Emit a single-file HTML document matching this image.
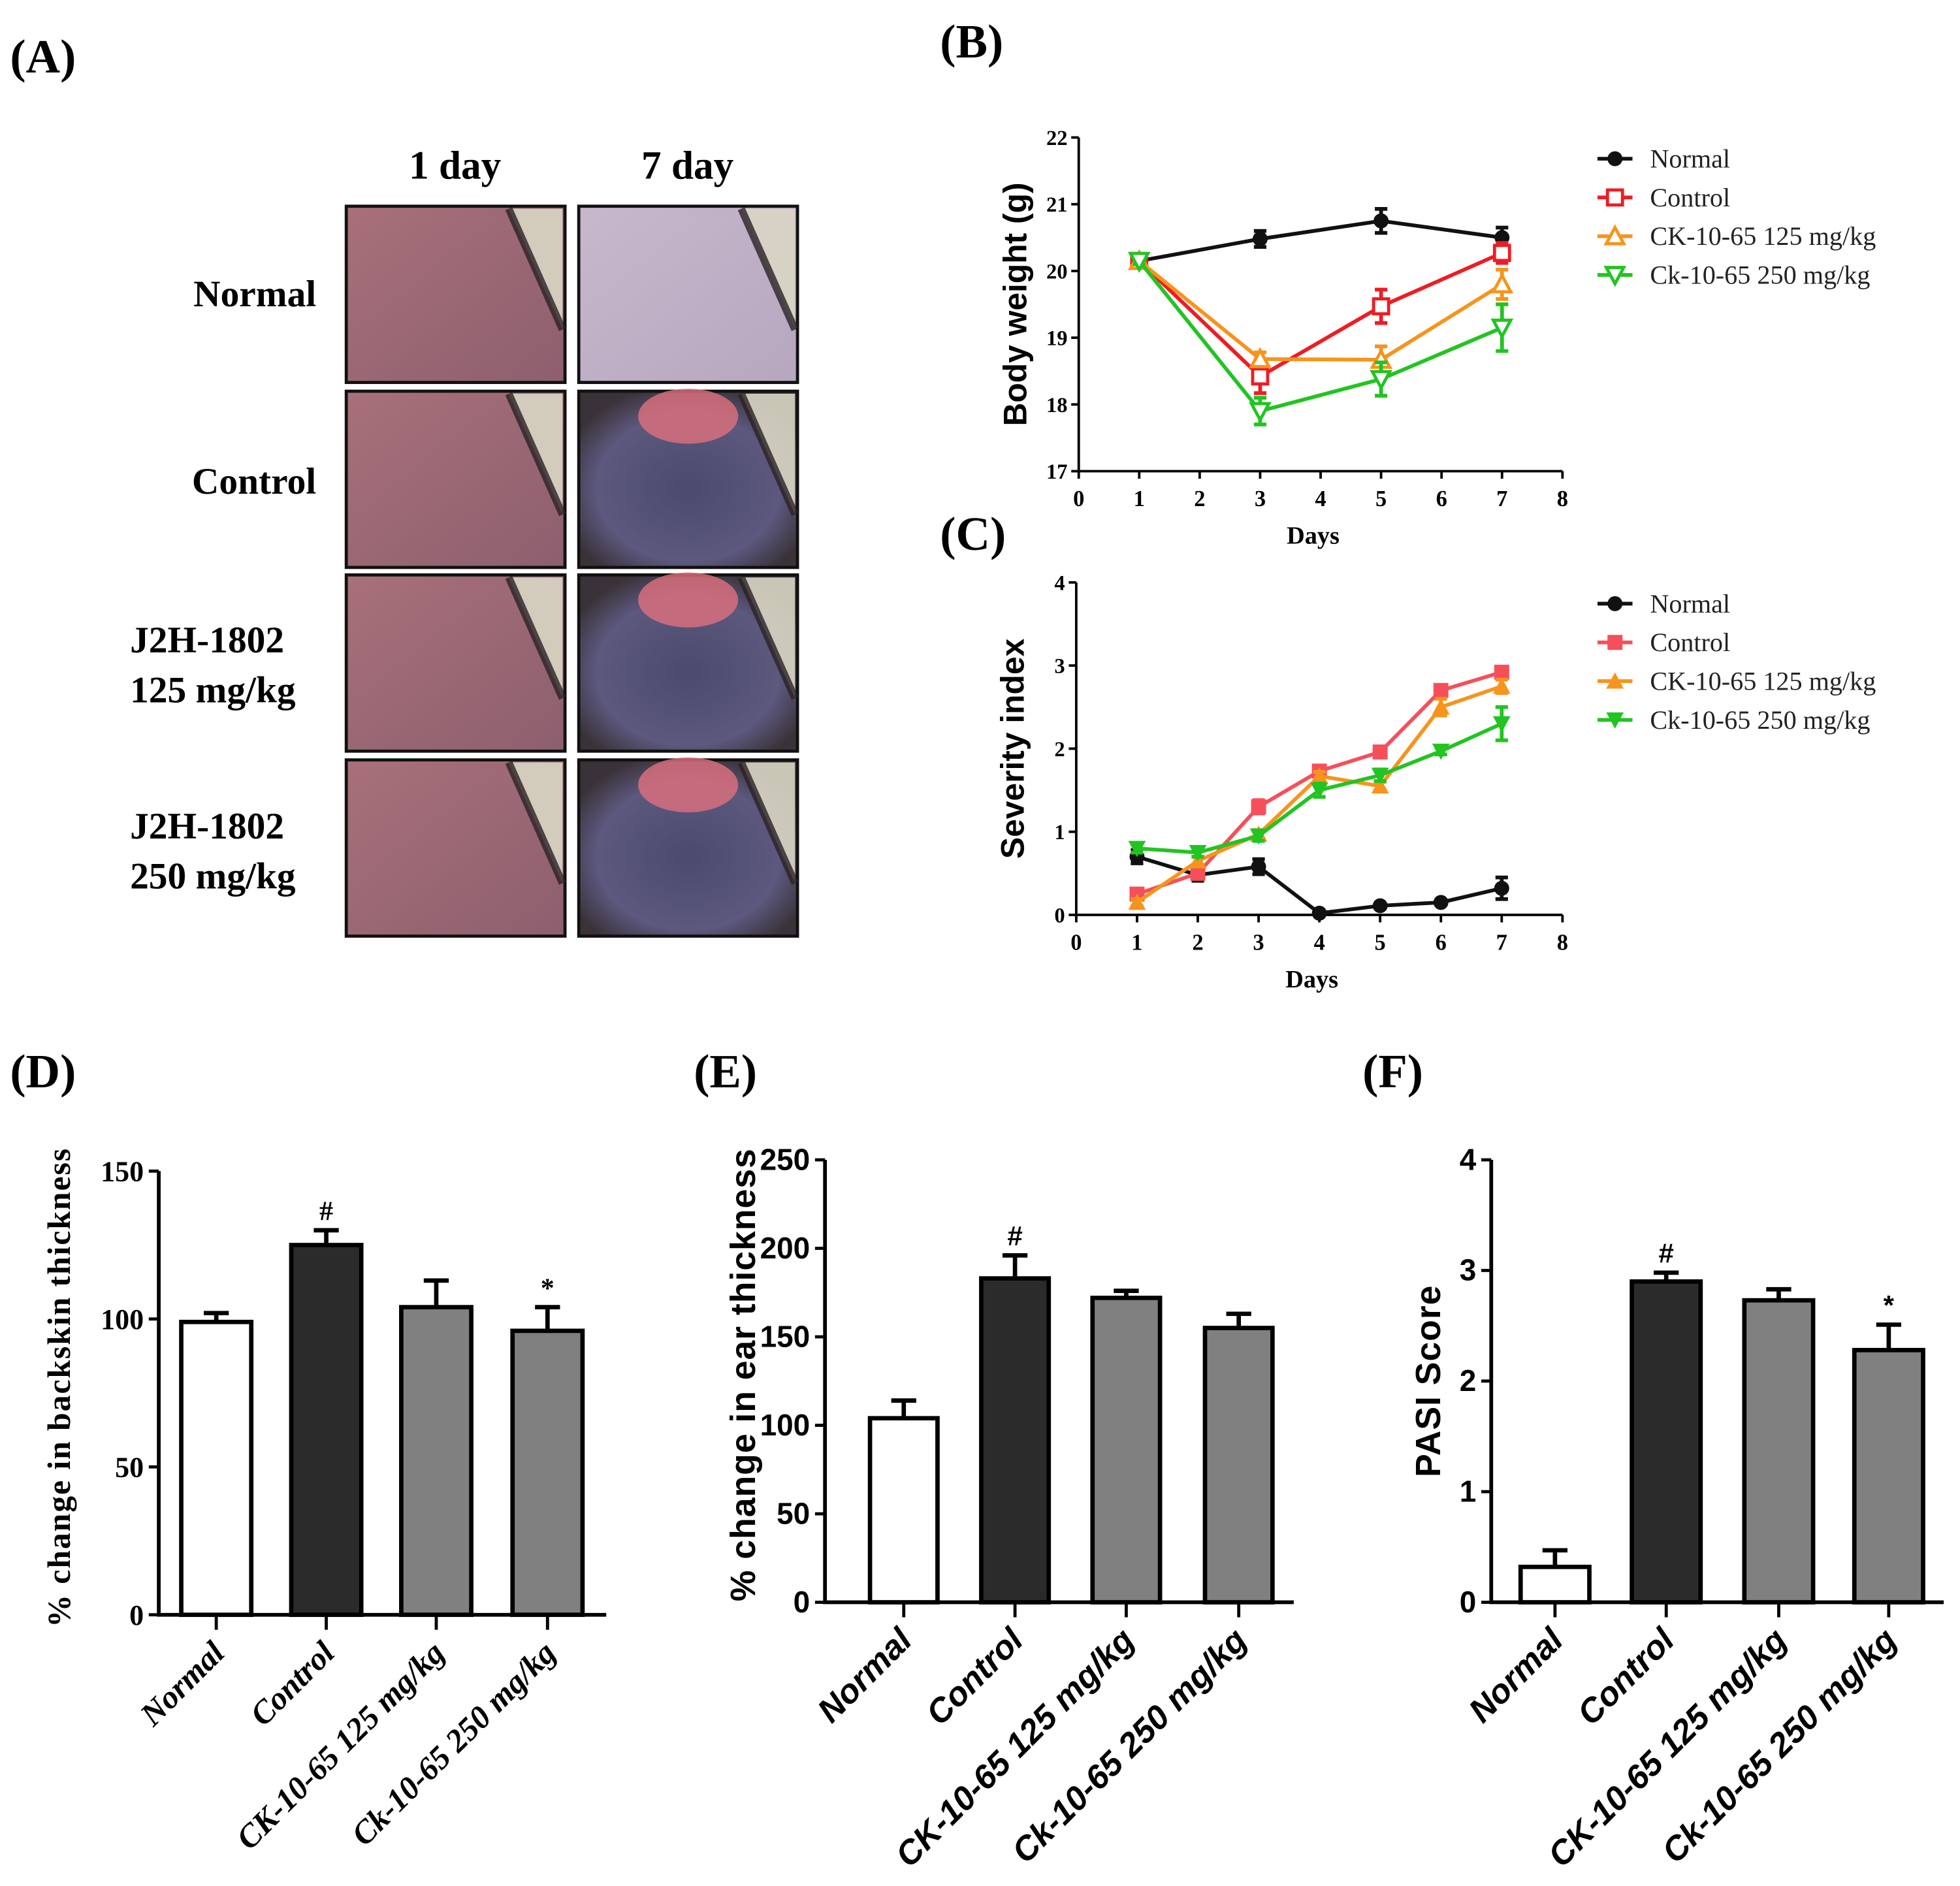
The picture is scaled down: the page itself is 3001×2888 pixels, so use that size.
<!DOCTYPE html>
<html><head><meta charset="utf-8"><style>
html,body{margin:0;padding:0;background:#fff;}
svg{display:block;}
.ser{font-family:"Liberation Serif",serif;}
.san{font-family:"Liberation Sans",sans-serif;}
</style></head><body>
<svg id="fig" width="3001" height="2888" viewBox="0 0 1568 1509" xmlns="http://www.w3.org/2000/svg">
<defs>
<linearGradient id="pk1" x1="0" y1="0" x2="1" y2="1"><stop offset="0" stop-color="#a8707a"/><stop offset="1" stop-color="#8d5f6e"/></linearGradient>
<linearGradient id="pk2" x1="0" y1="0" x2="1" y2="1"><stop offset="0" stop-color="#c7b8cc"/><stop offset="1" stop-color="#b6a7bf"/></linearGradient>
<radialGradient id="bl1" cx="0.5" cy="0.55" r="0.6"><stop offset="0" stop-color="#4b4a6e"/><stop offset="0.7" stop-color="#5c587e"/><stop offset="1" stop-color="#3a3238"/></radialGradient>
</defs>
<g class="ser" font-weight="bold" fill="#000">
<text x="8" y="58" font-size="38">(A)</text>
<text x="752" y="46" font-size="38">(B)</text>
<text x="752" y="440" font-size="38">(C)</text>
<text x="8" y="870" font-size="38">(D)</text>
<text x="555" y="870" font-size="38">(E)</text>
<text x="1090" y="870" font-size="38">(F)</text>
<text x="364" y="143" font-size="32" text-anchor="middle">1 day</text>
<text x="550" y="143" font-size="32" text-anchor="middle">7 day</text>
<text x="253" y="245" font-size="30" text-anchor="end">Normal</text>
<text x="253" y="395" font-size="30" text-anchor="end">Control</text>
<text x="104" y="522" font-size="30">J2H-1802</text>
<text x="104" y="562" font-size="30">125 mg/kg</text>
<text x="104" y="671" font-size="30">J2H-1802</text>
<text x="104" y="711" font-size="30">250 mg/kg</text>
</g>
<g id="photos"></g>
<g id="chartB"></g>
<g id="chartC"></g>
<g id="chartD"></g>
<g id="chartE"></g>
<g id="chartF"></g>
</svg>
<script>
// ---- data ----
const bDays = [1,3,5,7];
const bNormal = [20.15,20.48,20.75,20.5];
const bNormalErr = [0.05,0.12,0.18,0.15];
const bControl = [20.15,18.42,19.47,20.27];
const bControlErr = [0.05,0.25,0.25,0.15];
const b125 = [20.15,18.68,18.67,19.8];
const b125Err = [0.05,0.1,0.2,0.22];
const b250 = [20.15,17.9,18.38,19.15];
const b250Err = [0.05,0.2,0.25,0.35];
const bYTicks = [17,18,19,20,21,22];
const xTicks = [0,1,2,3,4,5,6,7,8];

const cDays = [1,2,3,4,5,6,7];
const cNormal = [0.7,0.48,0.58,0.02,0.11,0.15,0.32];
const cNormalErr = [0.08,0.07,0.09,0.02,0.03,0.03,0.13];
const cControl = [0.25,0.5,1.3,1.73,1.96,2.7,2.92];
const cControlErr = [0.05,0.06,0.08,0.06,0.05,0.05,0.04];
const c125 = [0.15,0.65,0.97,1.67,1.55,2.5,2.75];
const c125Err = [0.04,0.05,0.05,0.05,0.05,0.1,0.08];
const c250 = [0.8,0.75,0.95,1.5,1.68,1.97,2.3];
const c250Err = [0.05,0.05,0.06,0.08,0.07,0.04,0.2];
const cYTicks = [0,1,2,3,4];

const barCats = ["Normal","Control","CK-10-65 125 mg/kg","Ck-10-65 250 mg/kg"];
const dVals = [99,125,104,96];
const dErr = [3,5,9,8];
const dTicks = [0,50,100,150];
const eVals = [104,183,172,155];
const eErr = [10,13,4,8];
const eTicks = [0,50,100,150,200,250];
const fVals = [0.32,2.9,2.73,2.28];
const fErr = [0.15,0.08,0.1,0.23];
const fTicks = [0,1,2,3,4];
const barFills = ["#ffffff","#2b2b2b","#808080","#808080"];
const dMarks = ["","#","","*"];
const fMarks = ["","#","","*"];

const NS="http://www.w3.org/2000/svg";
function mk(parent,tag,attrs,txt){const e=document.createElementNS(NS,tag);for(const k in attrs)e.setAttribute(k,attrs[k]);if(txt!==undefined)e.textContent=txt;parent.appendChild(e);return e;}

// ---- photos ----
(function(){
const g=document.getElementById('photos');
const cols=[277,463], rows=[165,313,460,608], w=175, h=141;
const fills=[["url(#pk1)","url(#pk2)"],["url(#pk1)","url(#bl1)"],["url(#pk1)","url(#bl1)"],["url(#pk1)","url(#bl1)"]];
rows.forEach((y,ri)=>cols.forEach((x,ci)=>{
  const r=mk(g,'rect',{x:x,y:y,width:w,height:h,fill:fills[ri][ci],stroke:'#111','stroke-width':2.5});
  
  
  const p=mk(g,'path',{d:`M${x+w-45} ${y+2} L${x+w-2} ${y+2} L${x+w-2} ${y+h*0.7} Z`,fill:'#d9d6c4',opacity:0.9});
  
  
  const hr=mk(g,'path',{d:`M${x+w-45} ${y+2} L${x+w-2} ${y+h*0.7}`,stroke:'#2a2224','stroke-width':6,fill:'none',opacity:0.8});
  
  
  if(ci===1&&ri>0){
    const q=mk(g,'ellipse',{cx:x+w*0.5,cy:y+20,rx:40,ry:22,fill:'#e0707e',opacity:0.8});
    
    
  }
}));
})();

// ---- line charts ----
function lineChart(id,o){
  const g=document.getElementById(id);
  const X=v=>o.x0+(v-0)*(o.x1-o.x0)/8;
  const Y=v=>o.y1-(v-o.ymin)*(o.y1-o.y0)/(o.ymax-o.ymin);
  const ax=mk(g,'path',{d:`M${o.x0} ${o.y0} L${o.x0} ${o.y1} L${o.x1} ${o.y1}`,fill:'none',stroke:'#000','stroke-width':2});
  
  
  o.yt.forEach(t=>{
    const l=mk(g,'line',{x1:o.x0-6,x2:o.x0,y1:Y(t),y2:Y(t),stroke:'#000','stroke-width':2});
    
    
    const tx=mk(g,'text',{x:o.x0-9,y:Y(t)+6,'text-anchor':'end','font-size':17,'font-weight':'bold',class:'ser'},t);
    
    
  });
  xTicks.forEach(t=>{
    const l=mk(g,'line',{x1:X(t),x2:X(t),y1:o.y1,y2:o.y1+6,stroke:'#000','stroke-width':2});
    
    
    const tx=mk(g,'text',{x:X(t),y:o.y1+28,'text-anchor':'middle','font-size':18,'font-weight':'bold',class:'ser'},t);
    
    
  });
  const xt=mk(g,'text',{x:(o.x0+o.x1)/2-6,y:o.y1+58,'text-anchor':'middle','font-size':20,'font-weight':'bold',class:'ser'},'Days');
  
  
  const yc=(o.y0+o.y1)/2;
  const yt=mk(g,'text',{x:0,y:0,transform:`translate(${o.x0-42},${yc}) rotate(-90)`,'text-anchor':'middle','font-size':26,'font-weight':'bold',class:'san'},o.ytitle);
  
  
  o.series.forEach((s,si)=>{
    const pts=s.vals.map((v,i)=>X(o.days[i])+','+Y(v)).join(' ');
    const pl=mk(g,'polyline',{points:pts,fill:'none',stroke:s.color,'stroke-width':3});
    
    
    s.vals.forEach((v,i)=>{
      const x=X(o.days[i]),e=s.err[i];
      const eb=mk(g,'path',{d:`M${x} ${Y(v+e)} L${x} ${Y(v-e)} M${x-5} ${Y(v+e)} L${x+5} ${Y(v+e)} M${x-5} ${Y(v-e)} L${x+5} ${Y(v-e)}`,stroke:s.color,'stroke-width':3,fill:'none'});
      
      
      const m=marker(g,s.mk,x,Y(v),s.color,s.hollow);
      
      
    });
    const ly=o.legY+si*31;
    const ll=mk(g,'line',{x1:1278,x2:1306,y1:ly,y2:ly,stroke:s.color,'stroke-width':3});
    
    
    const lm=marker(g,s.mk,1292,ly,s.color,s.hollow);
    
    
    const lt=mk(g,'text',{x:1320,y:ly+7,'font-size':21,class:'ser',fill:'#222'},s.name);
    
    
  });
}
function marker(g,type,x,y,c,hollow){
  const f=hollow?'#fff':c, sw=hollow?2.5:0;
  if(type==='c') return mk(g,'circle',{cx:x,cy:y,r:6,fill:c});
  if(type==='s') return mk(g,'rect',{x:x-6,y:y-6,width:12,height:12,fill:f,stroke:c,'stroke-width':sw});
  if(type==='t') return mk(g,'polygon',{points:`${x},${y-7} ${x-7},${y+6} ${x+7},${y+6}`,fill:f,stroke:c,'stroke-width':sw});
  return mk(g,'polygon',{points:`${x},${y+7} ${x-7},${y-6} ${x+7},${y-6}`,fill:f,stroke:c,'stroke-width':sw});
}
lineChart('chartB',{x0:863,x1:1250,y0:110,y1:377,ymin:17,ymax:22,yt:bYTicks,days:bDays,ytitle:'Body weight (g)',legY:127,series:[
 {key:'normal',name:'Normal',vals:bNormal,err:bNormalErr,color:'#111',mk:'c'},
 {key:'control',name:'Control',vals:bControl,err:bControlErr,color:'#ee1c24',mk:'s',hollow:true},
 {key:'ck125',name:'CK-10-65 125 mg/kg',vals:b125,err:b125Err,color:'#f7941d',mk:'t',hollow:true},
 {key:'ck250',name:'Ck-10-65 250 mg/kg',vals:b250,err:b250Err,color:'#22c422',mk:'v',hollow:true}]});
lineChart('chartC',{x0:861,x1:1250,y0:466,y1:732,ymin:0,ymax:4,yt:cYTicks,days:cDays,ytitle:'Severity index',legY:483,series:[
 {key:'normal',name:'Normal',vals:cNormal,err:cNormalErr,color:'#111',mk:'c'},
 {key:'control',name:'Control',vals:cControl,err:cControlErr,color:'#f5505a',mk:'s'},
 {key:'ck125',name:'CK-10-65 125 mg/kg',vals:c125,err:c125Err,color:'#f7941d',mk:'t'},
 {key:'ck250',name:'Ck-10-65 250 mg/kg',vals:c250,err:c250Err,color:'#22c422',mk:'v'}]});

// ---- bar charts ----
function barChart(id,o){
  const g=document.getElementById(id);
  const Y=v=>o.y1-(v/o.ymax)*(o.y1-o.y0);
  o.vals.forEach((v,i)=>{
    const cx=o.cx[i], e=o.err[i], yv=Y(v);
    const eb=mk(g,'path',{d:`M${cx} ${yv} L${cx} ${Y(v+e)} M${cx-10} ${Y(v+e)} L${cx+10} ${Y(v+e)}`,stroke:'#000','stroke-width':3.5,fill:'none'});
    
    
    const r=mk(g,'rect',{x:cx-o.bw/2,y:yv,width:o.bw,height:o.y1-yv,fill:barFills[i],stroke:'#000','stroke-width':3.5});
    
    
    if(o.marks[i]){
      const m=mk(g,'text',{x:cx,y:Y(v+e)-8,'text-anchor':'middle','font-size':22,'font-weight':'bold',class:o.cls},o.marks[i]);
      
      
    }
    const tk=mk(g,'line',{x1:cx,x2:cx,y1:o.y1,y2:o.y1+12,stroke:'#000','stroke-width':2.5});
    
    
    const lb=mk(g,'text',{x:0,y:0,transform:`translate(${cx+8},${o.y1+32}) rotate(-45)`,'text-anchor':'end','font-size':o.lfs,'font-weight':'bold','font-style':'italic',class:o.cls},barCats[i]);
    
    
  });
  const ax=mk(g,'path',{d:`M${o.x0} ${o.y0} L${o.x0} ${o.y1} L${o.xe} ${o.y1}`,fill:'none',stroke:'#000','stroke-width':3});
  
  
  o.ticks.forEach(t=>{
    const l=mk(g,'line',{x1:o.x0-8,x2:o.x0,y1:Y(t),y2:Y(t),stroke:'#000','stroke-width':2.5});
    
    
    const tx=mk(g,'text',{x:o.x0-12,y:Y(t)+8,'text-anchor':'end','font-size':o.tfs,'font-weight':'bold',class:o.cls},t);
    
    
  });
  const yt=mk(g,'text',{x:0,y:0,transform:`translate(${o.ytx},${o.yty}) rotate(-90)`,'text-anchor':'middle','font-size':o.yfs,'font-weight':'bold',class:o.cls,'letter-spacing':o.ls||0},o.ytitle);
  
  
}
barChart('chartD',{x0:127,xe:485,y0:937,y1:1292,ymax:150,vals:dVals,err:dErr,ticks:dTicks,cx:[173,261,349,438],bw:56,marks:dMarks,cls:'ser',lfs:26,tfs:23,yfs:26,ls:1,ytitle:'% change in backskin thickness',ytx:56,yty:1110});
barChart('chartE',{x0:660,xe:1035,y0:928,y1:1282,ymax:250,vals:eVals,err:eErr,ticks:eTicks,cx:[723,812,901,991],bw:54,marks:["","#","",""],cls:'san',lfs:27,tfs:24,yfs:28,ls:0.5,ytitle:'% change in ear thickness',ytx:604,yty:1100});
barChart('chartF',{x0:1193,xe:1555,y0:928,y1:1282,ymax:4,vals:fVals,err:fErr,ticks:fTicks,cx:[1244,1333,1423,1511],bw:55,marks:fMarks,cls:'san',lfs:27,tfs:24,yfs:28,ls:0.5,ytitle:'PASI Score',ytx:1152,yty:1105});
</script>
</body></html>
